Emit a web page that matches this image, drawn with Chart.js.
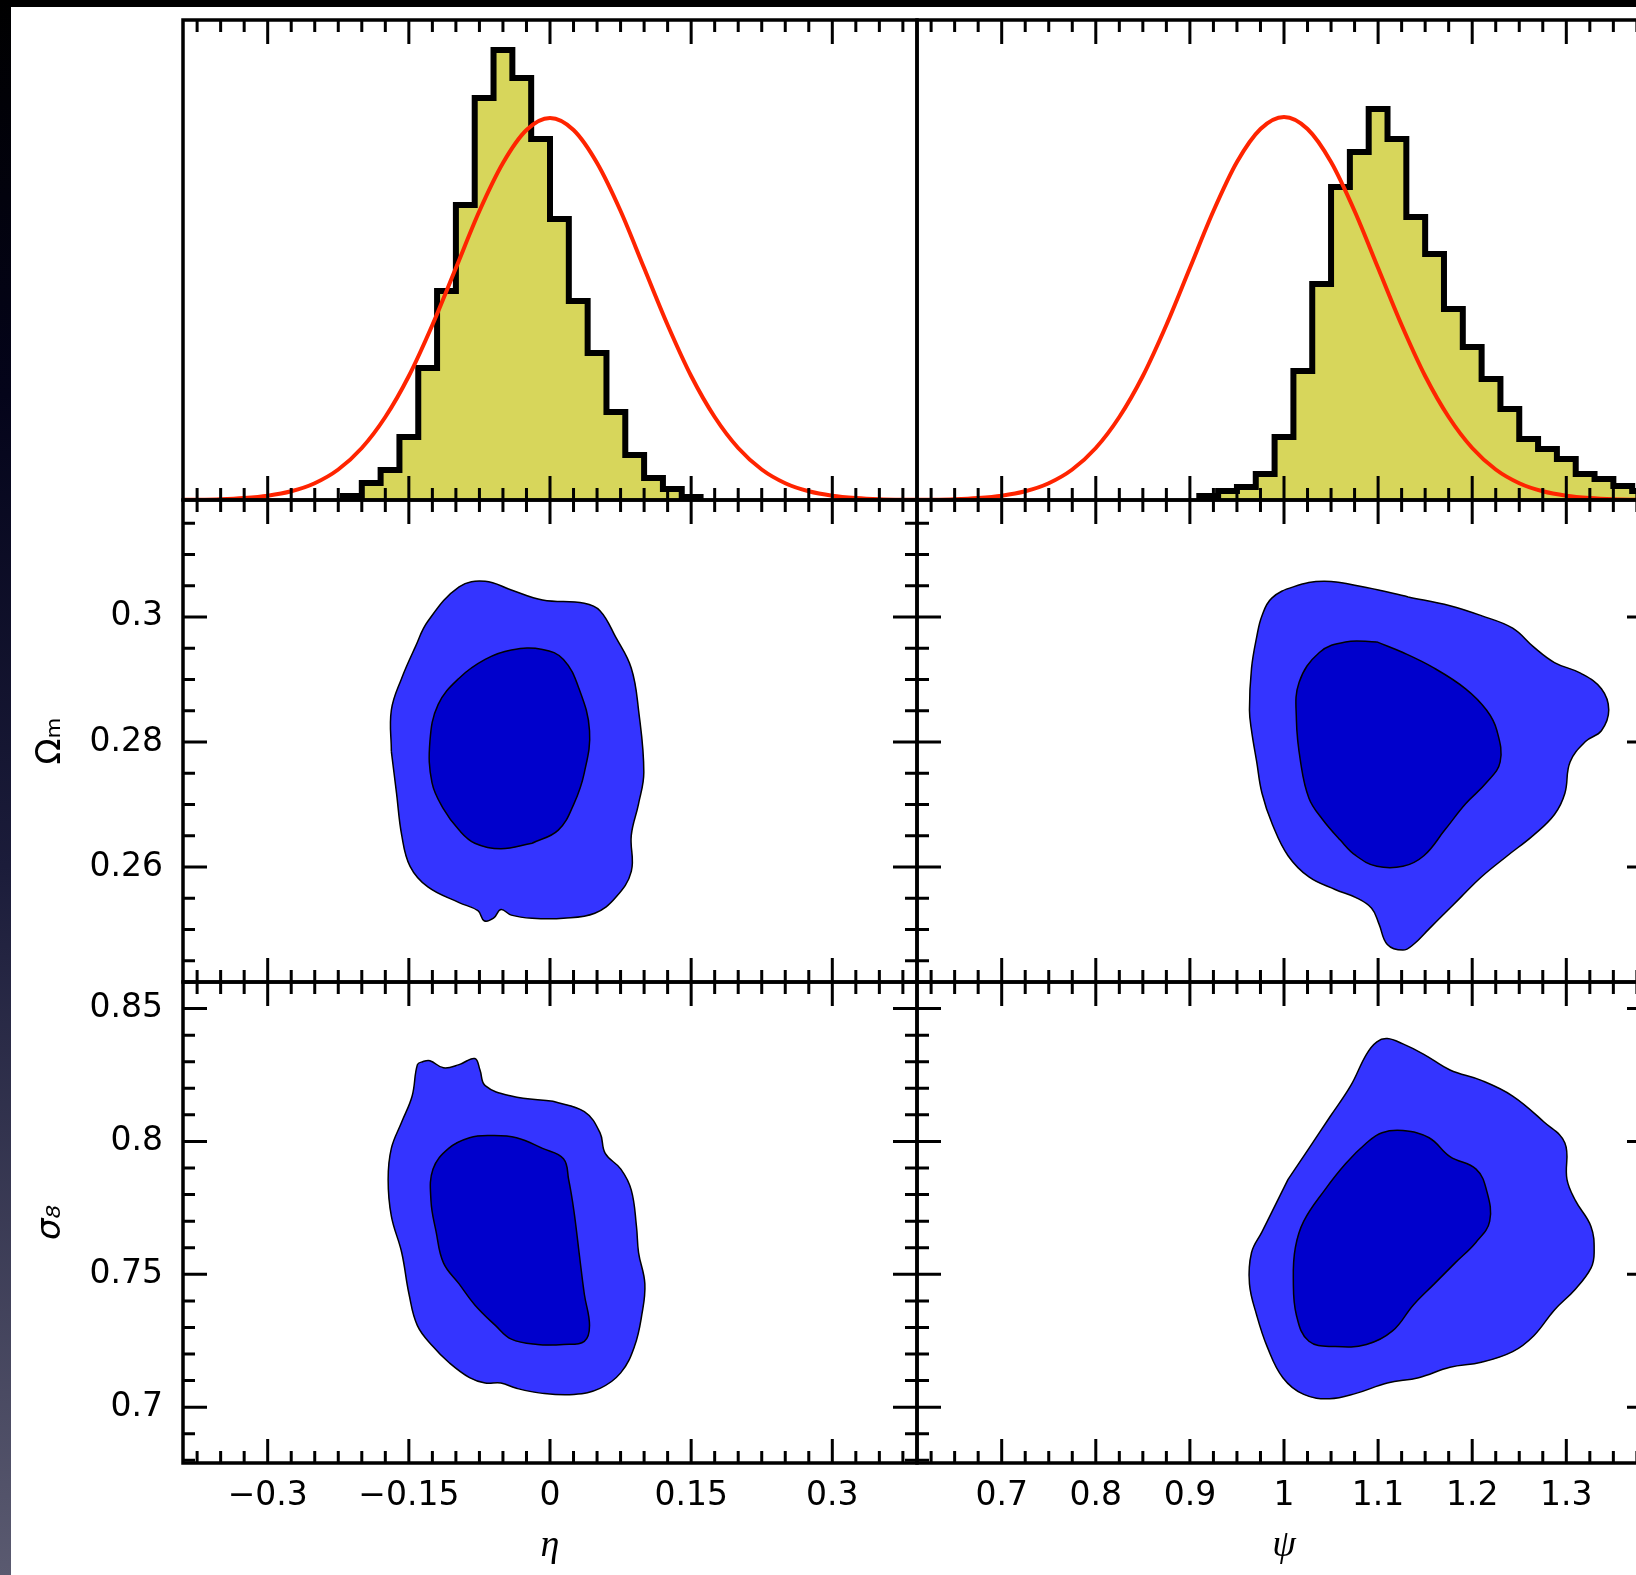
<!DOCTYPE html>
<html>
<head>
<meta charset="utf-8">
<script src="https://cdn.jsdelivr.net/npm/chart.js@4.4.1/dist/chart.umd.min.js"></script>
<style>
    html, body { margin: 0; padding: 0; background: #fff; overflow: hidden; width: 1636px; height: 1575px; }
    .top-bar { position: absolute; left: 0; top: 0; width: 1636px; height: 7px; background: #000; z-index: 10; }
    .side-bar { position: absolute; left: 0; top: 0; width: 11px; height: 1575px; z-index: 10;
        background: linear-gradient(#000 0%, #04041a 25%, #1b1c3a 55%, #5a5a70 100%); }
    canvas { position: absolute; left: 0; top: 0; }
</style>
</head>
<body>
<div class="top-bar"></div>
<div class="side-bar"></div>
<script>
// axis ranges
const etaRange = [-0.39, 0.39];
const psiRange = [0.61, 1.39];
const omegaRange = [0.2416, 0.3187];
const sigmaRange = [0.679, 0.86];
const histRange = [0, 480];

// tick labels
const etaTickValues = [-0.3, -0.15, 0, 0.15, 0.3];
const etaTickLabels = ['\u22120.3', '\u22120.15', '0', '0.15', '0.3'];
const psiTickValues = [0.7, 0.8, 0.9, 1, 1.1, 1.2, 1.3];
const psiTickLabels = ['0.7', '0.8', '0.9', '1', '1.1', '1.2', '1.3'];
const omegaTickValues = [0.26, 0.28, 0.3];
const omegaTickLabels = ['0.26', '0.28', '0.3'];
const sigmaTickValues = [0.7, 0.75, 0.8, 0.85];
const sigmaTickLabels = ['0.7', '0.75', '0.8', '0.85'];

// posterior histograms (bin edges + counts)
const etaBinEdges = [-0.22, -0.2, -0.18, -0.16, -0.14, -0.12, -0.1, -0.08, -0.06, -0.04, -0.02, 0,
    0.02, 0.04, 0.06, 0.08, 0.1, 0.12, 0.14, 0.16];
const etaCounts = [4, 17, 30, 63, 132, 209, 295, 402, 450, 422, 361, 281, 199, 147, 88, 45, 22, 11, 3];
const psiBinEdges = [0.91, 0.93, 0.95, 0.97, 0.99, 1.01, 1.03, 1.05, 1.07, 1.09, 1.11, 1.13, 1.15,
    1.17, 1.19, 1.21, 1.23, 1.25, 1.27, 1.29, 1.31, 1.33, 1.35, 1.37, 1.39];
const psiCounts = [4, 9, 13, 26, 63, 129, 216, 313, 348, 391, 361, 283, 246, 191, 153, 121, 91, 61,
    51, 41, 26, 21, 14, 9];

// prior curves (red)
const etaPriorX = [-0.39, -0.375, -0.35, -0.325, -0.3, -0.275, -0.25, -0.225, -0.2, -0.175, -0.15,
    -0.125, -0.1, -0.075, -0.05, -0.025, 0, 0.025, 0.05, 0.075, 0.1, 0.125, 0.15, 0.175, 0.2, 0.225,
    0.25, 0.275, 0.3, 0.325, 0.35, 0.375, 0.39];
const etaPriorY = [0.2, 0.3, 0.8, 2, 4.3, 8.7, 16.8, 30.5, 52, 83, 124, 175, 232, 289, 337, 370, 382,
    370, 337, 289, 232, 175, 124, 83, 52, 30.5, 16.8, 8.7, 4.3, 2, 0.8, 0.3, 0.2];
const psiPriorX = [0.61, 0.625, 0.65, 0.675, 0.7, 0.725, 0.75, 0.775, 0.8, 0.825, 0.85, 0.875, 0.9,
    0.925, 0.95, 0.975, 1, 1.025, 1.05, 1.075, 1.1, 1.125, 1.15, 1.175, 1.2, 1.225, 1.25, 1.275, 1.3,
    1.325, 1.35, 1.375, 1.39];
const psiPriorY = [0.2, 0.3, 0.8, 2, 4.3, 8.7, 16.8, 30.5, 52, 83, 124, 175, 232, 289, 338, 371, 383,
    371, 338, 289, 232, 175, 124, 83, 52, 30.5, 16.8, 8.7, 4.3, 2, 0.8, 0.3, 0.2];

// 2D confidence contours [x, y], each loop starts on a smooth stretch
const etaOmegaOuter = [[-0.1686, 0.2785], [-0.1686, 0.2851], [-0.1576, 0.2902], [-0.1431, 0.2952],
    [-0.1298, 0.2993], [-0.0966, 0.3048], [-0.0689, 0.3057], [-0.0411, 0.3043],
    [-0.0079, 0.3027], [0.0365, 0.3022], [0.0531, 0.3010], [0.0697, 0.2968], [0.0864, 0.2918],
    [0.0941, 0.2851], [0.0997, 0.2751], [0.0941, 0.2701], [0.0864, 0.2651], [0.0864, 0.2593],
    [0.0697, 0.2551], [0.0476, 0.2526], [0.0143, 0.2518], [-0.0190, 0.2518], [-0.0411, 0.2523],
    [-0.0522, 0.2532], [-0.0600, 0.2518], [-0.0700, 0.2514], [-0.0766, 0.2530], [-0.0966, 0.2543],
    [-0.1298, 0.2568], [-0.1487, 0.2601], [-0.1576, 0.2651], [-0.1631, 0.2718]];
const etaOmegaInner = [[-0.0190, 0.2638], [-0.0522, 0.2629], [-0.0799, 0.2638], [-0.0966, 0.2659],
    [-0.1132, 0.2693], [-0.1254, 0.2735], [-0.1276, 0.2801], [-0.1188, 0.2860],
    [-0.0966, 0.2902], [-0.0689, 0.2932], [-0.0411, 0.2947], [-0.0079, 0.2948],
    [0.0143, 0.2932], [0.0309, 0.2885], [0.0420, 0.2818], [0.0365, 0.2751], [0.0254, 0.2701],
    [0.0088, 0.2659]];
const psiOmegaOuter = [[1.1320, 0.3032], [1.1764, 0.3018], [1.2097, 0.3002], [1.2430, 0.2982],
    [1.2652, 0.2952], [1.2874, 0.2927], [1.3151, 0.2910], [1.3373, 0.2885], [1.3451, 0.2851],
    [1.3373, 0.2818], [1.3207, 0.2801], [1.3040, 0.2768], [1.2985, 0.2718], [1.2874, 0.2684],
    [1.2652, 0.2651], [1.2374, 0.2618], [1.2097, 0.2584], [1.1875, 0.2551], [1.1708, 0.2526],
    [1.1542, 0.2501], [1.1375, 0.2476], [1.1264, 0.2467], [1.1098, 0.2476], [1.1009, 0.2509],
    [1.0931, 0.2534], [1.0765, 0.2551], [1.0543, 0.2564], [1.0265, 0.2584], [1.0043, 0.2618],
    [0.9877, 0.2668], [0.9766, 0.2718], [0.9710, 0.2768], [0.9655, 0.2818], [0.9633, 0.2851],
    [0.9655, 0.2918], [0.9710, 0.2968], [0.9766, 0.3002], [0.9870, 0.3030], [1.0099, 0.3048],
    [1.0432, 0.3057], [1.0876, 0.3047]];
const psiOmegaInner = [[1.0987, 0.2960], [1.1264, 0.2943], [1.1597, 0.2918], [1.1930, 0.2885],
    [1.2152, 0.2851], [1.2263, 0.2818], [1.2297, 0.2768], [1.2152, 0.2735], [1.1930, 0.2701],
    [1.1708, 0.2659], [1.1486, 0.2618], [1.1264, 0.2601], [1.0987, 0.2601], [1.0765, 0.2618],
    [1.0598, 0.2643], [1.0410, 0.2676], [1.0265, 0.2710], [1.0176, 0.2768], [1.0132, 0.2835],
    [1.0160, 0.2895], [1.0376, 0.2943], [1.0654, 0.2960]];
const etaSigmaOuter = [[0.0032, 0.8151], [0.0365, 0.8112], [0.0531, 0.8033], [0.0587, 0.7955],
    [0.0753, 0.7896], [0.0864, 0.7817], [0.0919, 0.7680], [0.0941, 0.7582], [0.1008, 0.7464],
    [0.0975, 0.7346], [0.0897, 0.7228], [0.0753, 0.7130], [0.0531, 0.7071], [0.0254, 0.7048],
    [-0.0079, 0.7052], [-0.0356, 0.7071], [-0.0522, 0.7091], [-0.0689, 0.7091], [-0.0855, 0.7111],
    [-0.1077, 0.7169], [-0.1243, 0.7228], [-0.1409, 0.7307], [-0.1498, 0.7425], [-0.1576, 0.7582],
    [-0.1686, 0.7719], [-0.1720, 0.7857], [-0.1686, 0.7974], [-0.1576, 0.8073], [-0.1465, 0.8171],
    [-0.1409, 0.8289], [-0.1354, 0.8300], [-0.1276, 0.8304], [-0.1132, 0.8277], [-0.0966, 0.8289],
    [-0.0799, 0.8312], [-0.0744, 0.8269], [-0.0689, 0.8210], [-0.0411, 0.8171]];
const etaSigmaInner = [[0.0309, 0.7582], [0.0365, 0.7425], [0.0420, 0.7307], [0.0365, 0.7248],
    [0.0143, 0.7236], [-0.0134, 0.7236], [-0.0411, 0.7256], [-0.0578, 0.7307], [-0.0799, 0.7385],
    [-0.0966, 0.7464], [-0.1132, 0.7543], [-0.1210, 0.7660], [-0.1265, 0.7778], [-0.1243, 0.7896],
    [-0.1077, 0.7974], [-0.0855, 0.8014], [-0.0633, 0.8022], [-0.0356, 0.8014], [-0.0079, 0.7974],
    [0.0143, 0.7935], [0.0198, 0.7857], [0.0254, 0.7739]];
const psiSigmaOuter = [[1.0043, 0.7857], [1.0265, 0.7974], [1.0487, 0.8092], [1.0709, 0.8210],
    [1.0876, 0.8328], [1.0987, 0.8375], [1.1098, 0.8387], [1.1264, 0.8367], [1.1486, 0.8328],
    [1.1764, 0.8269], [1.2097, 0.8230], [1.2430, 0.8171], [1.2763, 0.8073], [1.2985, 0.7994],
    [1.3007, 0.7857], [1.3096, 0.7778], [1.3262, 0.7680], [1.3296, 0.7582], [1.3262, 0.7523],
    [1.3096, 0.7444], [1.2874, 0.7366], [1.2652, 0.7268], [1.2430, 0.7209], [1.2097, 0.7169],
    [1.1764, 0.7150], [1.1431, 0.7111], [1.1098, 0.7091], [1.0765, 0.7052], [1.0487, 0.7032],
    [1.0210, 0.7048], [0.9988, 0.7111], [0.9821, 0.7228], [0.9710, 0.7346], [0.9633, 0.7464],
    [0.9655, 0.7582], [0.9766, 0.7660], [0.9877, 0.7739]];
const psiSigmaInner = [[1.1597, 0.7464], [1.1375, 0.7385], [1.1153, 0.7287], [1.0876, 0.7236],
    [1.0543, 0.7228], [1.0265, 0.7248], [1.0132, 0.7346], [1.0099, 0.7484], [1.0121, 0.7601],
    [1.0210, 0.7700], [1.0432, 0.7817], [1.0654, 0.7916], [1.0876, 0.7994], [1.1042, 0.8033],
    [1.1264, 0.8041], [1.1542, 0.8014], [1.1764, 0.7943], [1.2041, 0.7896], [1.2152, 0.7817],
    [1.2186, 0.7700], [1.2041, 0.7621], [1.1819, 0.7543]];

// page layout
const PAGE_W = 1660, PAGE_H = 1575;
const COLS = [183, 917, 1651];
const ROWS = [20, 500, 982, 1463];

const etaAxis = { min: etaRange[0], max: etaRange[1], step: 0.025, major: etaTickValues, labels: etaTickLabels };
const psiAxis = { min: psiRange[0], max: psiRange[1], step: 0.025, major: psiTickValues, labels: psiTickLabels };
const omegaAxis = { min: omegaRange[0], max: omegaRange[1], step: 0.005, major: omegaTickValues, labels: omegaTickLabels };
const sigmaAxis = { min: sigmaRange[0], max: sigmaRange[1], step: 0.01, major: sigmaTickValues, labels: sigmaTickLabels };
const histAxis = { min: histRange[0], max: histRange[1], step: 100, major: [], labels: [] };

Chart.defaults.color = '#000';
Chart.defaults.font.family = 'DejaVu Sans';

const isMajor = (list, v) => list.some(m => Math.abs(m - v) < 1e-7);

// frame + inward tick marks, drawn from the scales' own ticks
const frameTicks = {
    id: 'frameTicks',
    afterDraw(chart, args, opts) {
        const { ctx, chartArea: a } = chart;
        ctx.save();
        ctx.strokeStyle = '#000';
        ctx.lineWidth = 3;
        ctx.beginPath();
        opts.sides.forEach(side => {
            const horiz = side === 'top' || side === 'bottom';
            const scale = horiz ? chart.scales.x : chart.scales.y;
            const major = horiz ? opts.xMajor : opts.yMajor;
            const dir = (side === 'top' || side === 'left') ? 1 : -1;
            scale.ticks.forEach(t => {
                const len = isMajor(major, t.value) ? 24 : 12;
                const p = scale.getPixelForValue(t.value);
                if (horiz) {
                    const y0 = side === 'top' ? a.top : a.bottom;
                    ctx.moveTo(p, y0);
                    ctx.lineTo(p, y0 + dir * len);
                } else {
                    const x0 = side === 'left' ? a.left : a.right;
                    ctx.moveTo(x0, p);
                    ctx.lineTo(x0 + dir * len, p);
                }
            });
        });
        ctx.stroke();
        ctx.lineWidth = 3.5;
        ctx.strokeRect(a.left, a.top, a.right - a.left, a.bottom - a.top);
        ctx.restore();
    }
};

const toPoints = (xs, ys) => xs.map((x, i) => ({ x, y: ys[i] }));
const histPoints = (edges, counts) => [{ x: edges[0], y: 0 }]
    .concat(edges.map((e, i) => ({ x: e, y: i < counts.length ? counts[i] : 0 })));
const loopPoints = arr => arr.concat([arr[0]]).map(p => ({ x: p[0], y: p[1] }));

const histDatasets = (edges, counts, px, py) => [
    { data: toPoints(px, py), borderColor: '#ff2400', borderWidth: 4, fill: false,
      tension: 0.4, cubicInterpolationMode: 'monotone', pointRadius: 0, order: 0 },
    { data: histPoints(edges, counts), stepped: true, fill: 'origin', backgroundColor: '#d7d65b',
      borderColor: '#000', borderWidth: 6, borderJoinStyle: 'miter', pointRadius: 0, order: 1 }
];
const contourDatasets = (inner, outer) => [
    { data: loopPoints(inner), fill: 'shape', backgroundColor: '#0000cc', borderColor: '#000',
      borderWidth: 1.5, tension: 0.4, pointRadius: 0, order: 0 },
    { data: loopPoints(outer), fill: 'shape', backgroundColor: '#3434ff', borderColor: '#000',
      borderWidth: 1.5, tension: 0.4, pointRadius: 0, order: 1 }
];

function axisOptions(ax, show, title, size, horizontal) {
    return {
        type: 'linear',
        position: horizontal ? 'bottom' : 'left',
        min: ax.min,
        max: ax.max,
        grid: { display: false, drawTicks: false },
        border: { display: false },
        ticks: {
            display: !!show,
            stepSize: ax.step,
            includeBounds: false,
            autoSkip: false,
            maxRotation: 0,
            minRotation: 0,
            padding: horizontal ? 14 : 20,
            font: { family: 'DejaVu Sans', size: 33 },
            callback: v => {
                const i = ax.major.findIndex(m => Math.abs(m - v) < 1e-7);
                return i < 0 ? '' : ax.labels[i];
            }
        },
        title: title || { display: false },
        afterFit: s => {
            if (horizontal) s.height = size; else s.width = size;
        }
    };
}

function buildPanel({ col, row, x, y, datasets, sides, showX = false, showY = false, xTitle, yTitle }) {
    const L = COLS[col], R = COLS[col + 1], T = ROWS[row], B = ROWS[row + 1];
    const xAxisH = showX ? PAGE_H - B : 0;
    const yAxisW = showY ? L : 0;
    const canvas = document.createElement('canvas');
    canvas.width = PAGE_W;
    canvas.height = PAGE_H;
    document.body.appendChild(canvas);
    return new Chart(canvas, {
        type: 'line',
        data: { datasets },
        options: {
            responsive: false,
            animation: false,
            events: [],
            layout: {
                autoPadding: false,
                padding: { left: L - yAxisW, top: T, right: PAGE_W - R, bottom: PAGE_H - B - xAxisH }
            },
            plugins: {
                legend: { display: false },
                tooltip: { enabled: false },
                frameTicks: { sides, xMajor: x.major, yMajor: y.major }
            },
            scales: {
                x: axisOptions(x, showX, xTitle, xAxisH, true),
                y: axisOptions(y, showY, yTitle, yAxisW, false)
            }
        },
        plugins: [frameTicks]
    });
}

const xTitle = text => ({ display: true, text, font: { family: 'Liberation Serif', style: 'italic', size: 38 },
    padding: { top: 0, bottom: 6 } });
const yTitle = (text, style) => ({ display: true, text, font: { family: 'DejaVu Sans', style, size: 34 },
    padding: { top: 31, bottom: 0 } });
const allSides = ['top', 'bottom', 'left', 'right'];

buildPanel({ col: 0, row: 0, x: etaAxis, y: histAxis, sides: ['top', 'bottom'],
    datasets: histDatasets(etaBinEdges, etaCounts, etaPriorX, etaPriorY) });
buildPanel({ col: 1, row: 0, x: psiAxis, y: histAxis, sides: ['top', 'bottom'],
    datasets: histDatasets(psiBinEdges, psiCounts, psiPriorX, psiPriorY) });
buildPanel({ col: 0, row: 1, x: etaAxis, y: omegaAxis, sides: allSides, showY: true,
    yTitle: yTitle('\u03A9\u2098', 'normal'), datasets: contourDatasets(etaOmegaInner, etaOmegaOuter) });
buildPanel({ col: 1, row: 1, x: psiAxis, y: omegaAxis, sides: allSides,
    datasets: contourDatasets(psiOmegaInner, psiOmegaOuter) });
buildPanel({ col: 0, row: 2, x: etaAxis, y: sigmaAxis, sides: allSides, showX: true, showY: true,
    xTitle: xTitle('\u03B7'), yTitle: yTitle('\u03C3\u2088', 'italic'),
    datasets: contourDatasets(etaSigmaInner, etaSigmaOuter) });
buildPanel({ col: 1, row: 2, x: psiAxis, y: sigmaAxis, sides: allSides, showX: true,
    xTitle: xTitle('\u03C8'), datasets: contourDatasets(psiSigmaInner, psiSigmaOuter) });
</script>
</body>
</html>
